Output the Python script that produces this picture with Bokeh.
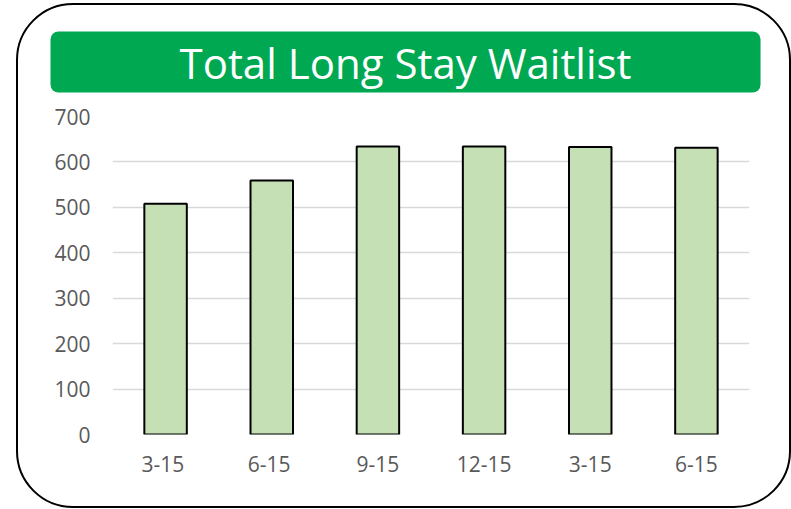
from bokeh.plotting import figure
from bokeh.models import ColumnDataSource, Range1d, FixedTicker, Title
from bokeh.embed import file_html
from bokeh.resources import INLINE

categories = ["3-15 ", "6-15 ", "9-15", "12-15", "3-15", "6-15"]
tick_labels = ["3-15", "6-15", "9-15", "12-15", "3-15", "6-15"]
values = [508, 559, 634, 634, 633, 631]
y_ticks = [0, 100, 200, 300, 400, 500, 600, 700]
title_text = "Total Long Stay Waitlist"

W, H = 771, 501
FONT = "Open Sans"

p = figure(width=W, height=H, x_range=categories, y_range=Range1d(0, 700),
           output_backend="svg", toolbar_location=None,
           min_border_left=94, min_border_right=40, min_border_top=109, min_border_bottom=72)
p.outline_line_color = None
p.background_fill_color = None
p.border_fill_color = None
p.styles = {"margin-left": "18px", "margin-top": "5px",
            "outline": "2.5px solid black", "border-radius": "55px"}

src = ColumnDataSource(dict(cat=categories, val=values))
p.vbar(x="cat", top="val", width=0.4, source=src, fill_color="#C5E0B4",
       line_color="black", line_width=2)

p.yaxis.ticker = FixedTicker(ticks=y_ticks)
p.yaxis.axis_line_color = None
p.yaxis.major_tick_line_color = None
p.yaxis.minor_tick_line_color = None
p.yaxis.major_label_standoff = 16
p.yaxis.major_label_text_font = FONT
p.yaxis.major_label_text_font_size = "21px"
p.yaxis.major_label_text_color = "#595959"

p.xaxis.axis_line_color = None
p.xaxis.major_tick_line_color = None
p.xaxis.minor_tick_line_color = None
p.xaxis.major_label_standoff = 9
p.xaxis.major_label_text_font = FONT
p.xaxis.major_label_text_font_size = "21px"
p.xaxis.major_label_text_color = "#595959"
p.xaxis.major_label_overrides = {c: t for c, t in zip(categories, tick_labels)}

p.xgrid.grid_line_color = None
p.ygrid.grid_line_color = "#D9D9D9"
p.ygrid.grid_line_width = 1.5

# title banner
p.title = Title(text=title_text, align="left", offset=-62, standoff=48,
                text_color="white", text_font=FONT, text_font_size="42px",
                text_font_style="normal",
                background_fill_color="#00A852", background_fill_alpha=1.0,
                padding=(129, 2), border_radius=8)

open("out.html", "w").write(file_html(p, INLINE))
